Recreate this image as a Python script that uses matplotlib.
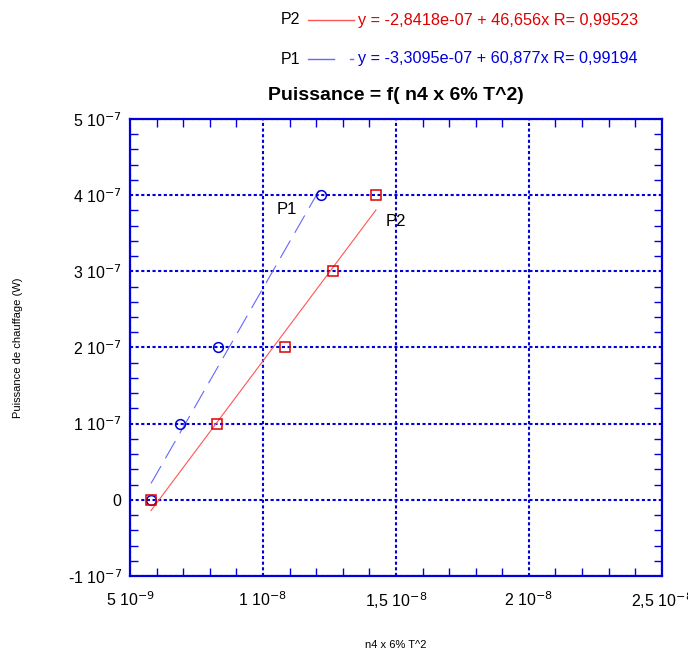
import numpy as np
import matplotlib.pyplot as plt
from matplotlib.lines import Line2D
from matplotlib.ticker import MultipleLocator

plt.rcParams['font.family'] = ['Liberation Sans', 'DejaVu Sans']

# data
p1_x = [5.79e-9, 6.88e-9, 8.31e-9, 12.18e-9]
p1_y = [0.0, 1e-7, 2e-7, 4e-7]
p2_x = [5.79e-9, 8.27e-9, 10.83e-9, 12.63e-9, 14.25e-9]
p2_y = [0.0, 1e-7, 2e-7, 3e-7, 4e-7]

# fit coefficients from the legend (intercept, slope, R)
p1_fit = (-3.3095e-07, 60.877, 0.99194)
p2_fit = (-2.8418e-07, 46.656, 0.99523)

x_ticks = [5e-9, 1e-8, 1.5e-8, 2e-8, 2.5e-8]
x_labels = ['5 10$^{-9}$', '1 10$^{-8}$', '1,5 10$^{-8}$', '2 10$^{-8}$', '2,5 10$^{-8}$']
y_ticks = [-1e-7, 0, 1e-7, 2e-7, 3e-7, 4e-7, 5e-7]
y_labels = ['-1 10$^{-7}$', '0', '1 10$^{-7}$', '2 10$^{-7}$', '3 10$^{-7}$', '4 10$^{-7}$', '5 10$^{-7}$']

blue = '#0000dd'
red = '#dd0000'

fig = plt.figure(figsize=(6.88, 6.52), dpi=100)
ax = fig.add_axes([0.189, 0.1166, 0.773, 0.7009])

ax.set_xlim(5e-9, 2.5e-8)
ax.set_ylim(-1e-7, 5e-7)

# grid at major ticks
ax.set_xticks(x_ticks)
ax.set_xticklabels(x_labels)
ax.set_yticks(y_ticks)
ax.set_yticklabels(y_labels)
ax.xaxis.set_minor_locator(MultipleLocator(1e-9))
ax.yaxis.set_minor_locator(MultipleLocator(2e-8))
ax.grid(True, which='major', color=blue, linestyle=(0, (1.5, 1.2)), linewidth=1.5)
ax.tick_params(which='both', direction='in', top=True, right=True, color=blue,
               labelsize=11.5, pad=6)
ax.tick_params(axis='x', which='major', pad=10)
ax.tick_params(which='major', length=0)
ax.tick_params(which='minor', length=6, width=1.0)
for s in ax.spines.values():
    s.set_color(blue)
    s.set_linewidth(1.6)

# fit lines over data range
xs1 = np.array([min(p1_x), max(p1_x)])
ax.plot(xs1, p1_fit[0] + p1_fit[1] * xs1, color='#6666ff', lw=0.8,
        linestyle=(0, (18, 8)))
xs2 = np.array([min(p2_x), max(p2_x)])
ax.plot(xs2, p2_fit[0] + p2_fit[1] * xs2, color='#ff5555', lw=0.8)

ax.plot(p1_x, p1_y, 'o', mfc='none', mec=blue, ms=7, mew=1.1)
ax.plot(p2_x, p2_y, 's', mfc='none', mec=red, ms=7, mew=1.1)

ax.text(1.05e-8, 3.75e-7, 'P1', fontsize=12)
ax.text(1.46e-8, 3.6e-7, 'P2', fontsize=12)

ax.set_title('Puissance = f( n4 x 6% T^2)', fontsize=14, fontweight='bold', pad=14)
ax.set_xlabel('n4 x 6% T^2', fontsize=8, va='center')
ax.xaxis.set_label_coords(0.5, -0.151, transform=ax.transAxes)
ax.set_ylabel('Puissance de chauffage (W)', fontsize=8, va='center')
ax.yaxis.set_label_coords(-0.21, 0.5, transform=ax.transAxes)

# legend built by hand at the top
fig.text(300 / 688, 1 - 20 / 652, 'P2', fontsize=11.5, ha='right', va='center')
fig.add_artist(Line2D([308 / 688, 354 / 688], [1 - 20 / 652] * 2, color='#ff5555', lw=1))
fig.text(358 / 688, 1 - 20 / 652,
         'y = -2,8418e-07 + 46,656x R= 0,99523', fontsize=11.7, color=red, va='center')
fig.text(300 / 688, 1 - 59 / 652, 'P1', fontsize=11.5, ha='right', va='center')
fig.add_artist(Line2D([308 / 688, 334 / 688], [1 - 59 / 652] * 2, color='#6666ff', lw=1))
fig.add_artist(Line2D([350 / 688, 353 / 688], [1 - 59 / 652] * 2, color='#6666ff', lw=1))
fig.text(358 / 688, 1 - 59 / 652,
         'y = -3,3095e-07 + 60,877x R= 0,99194', fontsize=11.7, color=blue, va='center')

fig.savefig('out.png', dpi=100)
